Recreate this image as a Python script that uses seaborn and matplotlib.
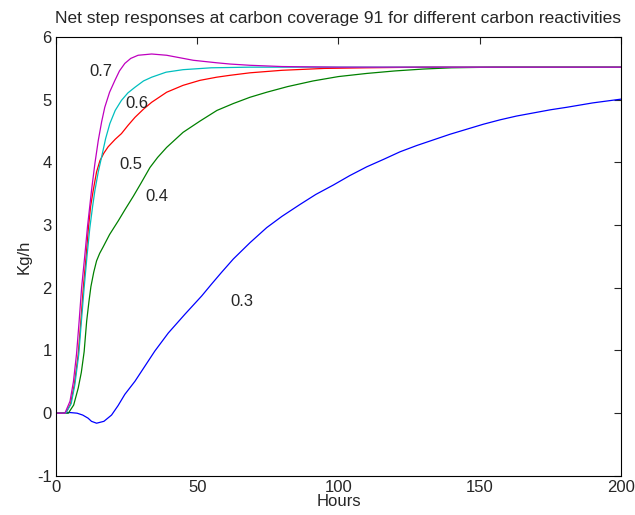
import pandas as pd
import matplotlib
matplotlib.use("Agg")
import matplotlib.pyplot as plt
import seaborn as sns

# step responses, one pair of lists per reactivity
hours_03 = [0, 5, 7.5, 9.5, 11.4, 12.6, 14.4, 17, 19.7, 22, 24.4, 28, 31.5, 35, 39.8, 45.7,
            51.6, 55.1, 58.5, 62.8, 68.7, 74.6, 80, 86.4, 92, 98.2, 104, 110, 116, 121.8,
            127.7, 133.6, 139.5, 145.4, 151.3, 157.2, 163, 169, 175, 180.8, 190, 200]
resp_03 = [0, 0.01, 0.0, -0.03, -0.08, -0.13, -0.16, -0.13, -0.03, 0.12, 0.30, 0.51, 0.75,
           0.99, 1.28, 1.58, 1.87, 2.06, 2.24, 2.46, 2.72, 2.96, 3.14, 3.33, 3.49, 3.64, 3.79,
           3.93, 4.05, 4.17, 4.27, 4.36, 4.45, 4.53, 4.61, 4.68, 4.74, 4.79, 4.84, 4.88, 4.95,
           5.01]

hours_04 = [0, 4.4, 6.3, 7.9, 9.0, 10.0, 10.9, 11.7, 12.4, 13.4, 14.4, 15.5, 16.7, 19, 22.1,
            24.5, 27.4, 30, 33.3, 36, 39.2, 45, 51, 57, 62.8, 68.7, 74.6, 82, 91, 100, 110,
            120, 130, 140, 155, 170, 200]
resp_04 = [0, 0, 0.13, 0.4, 0.65, 0.98, 1.47, 1.78, 2.02, 2.25, 2.43, 2.55, 2.65, 2.85, 3.07,
           3.25, 3.46, 3.66, 3.92, 4.08, 4.24, 4.48, 4.66, 4.83, 4.94, 5.04, 5.12, 5.21, 5.30,
           5.37, 5.42, 5.46, 5.49, 5.51, 5.52, 5.52, 5.52]

hours_05 = [0, 3.5, 5.2, 6.5, 7.9, 8.8, 9.7, 10.7, 11.5, 12.3, 13.2, 14.4, 15.6, 17, 18.5,
            21, 23.2, 25.5, 28, 31, 33.9, 39.2, 45, 51, 56.9, 61.6, 68.7, 80, 95, 110, 130,
            160, 200]
resp_05 = [0, 0, 0.15, 0.45, 0.94, 1.45, 2.0, 2.5, 2.95, 3.3, 3.55, 3.85, 4.03, 4.15, 4.25,
           4.37, 4.46, 4.59, 4.72, 4.85, 4.96, 5.12, 5.23, 5.31, 5.36, 5.39, 5.43, 5.47, 5.50,
           5.51, 5.52, 5.52, 5.52]

hours_06 = [0, 3.5, 5.4, 6.7, 8.1, 9.0, 10.0, 11.0, 12.0, 13.0, 13.8, 15.0, 16.2, 17.6, 19.1,
            21, 23.2, 25.5, 28, 31, 33.9, 39, 45, 55, 68.7, 100, 200]
resp_06 = [0, 0, 0.15, 0.45, 0.94, 1.45, 2.0, 2.5, 2.95, 3.3, 3.55, 3.85, 4.09, 4.38, 4.62,
           4.83, 4.99, 5.11, 5.2, 5.3, 5.36, 5.44, 5.48, 5.51, 5.52, 5.52, 5.52]

hours_07 = [0, 3.2, 5, 6.2, 7.3, 8.2, 9.1, 10.2, 11.2, 12.6, 13.8, 15.0, 16.2, 17.3, 19, 20.9,
            22.5, 24.4, 26.5, 29.1, 33.9, 39.2, 48.6, 56.9, 61.6, 68.7, 80, 100, 200]
resp_07 = [0, 0, 0.19, 0.5, 0.94, 1.45, 2.0, 2.5, 2.98, 3.55, 3.98, 4.35, 4.65, 4.88, 5.12,
           5.31, 5.46, 5.58, 5.66, 5.71, 5.73, 5.71, 5.63, 5.59, 5.57, 5.55, 5.53, 5.52, 5.52]

reactivities = ["0.3", "0.4", "0.5", "0.6", "0.7"]
line_colors = ["#0000ff", "#008000", "#ff0000", "#00bfbf", "#bf00bf"]
# where the curve labels sit (hours, kg/h)
label_x = [65.8, 35.8, 26.5, 28.6, 16.0]
label_y = [1.78, 3.46, 3.97, 4.94, 5.45]

frames = []
for r, h, v in zip(reactivities,
                   [hours_03, hours_04, hours_05, hours_06, hours_07],
                   [resp_03, resp_04, resp_05, resp_06, resp_07]):
    frames.append(pd.DataFrame({"Hours": h, "Kg/h": v, "reactivity": r}))
df = pd.concat(frames, ignore_index=True)

sns.set_style("white")
plt.rcParams["font.family"] = ["Liberation Sans", "DejaVu Sans"]
plt.rcParams["axes.unicode_minus"] = False

fig = plt.figure(figsize=(6.35, 5.15), dpi=100)
ax = fig.add_axes([0.088, 0.076, 0.890, 0.852])

sns.lineplot(data=df, x="Hours", y="Kg/h", hue="reactivity", hue_order=reactivities,
             palette=line_colors, linewidth=0.9, legend=False, sort=False, ax=ax)

for r, lx, ly in zip(reactivities, label_x, label_y):
    ax.text(lx, ly, r, fontsize=12, ha="center", va="center")

ax.set_xlim(0, 200)
ax.set_ylim(-1, 6)
ax.set_xticks([0, 50, 100, 150, 200])
ax.set_yticks([-1, 0, 1, 2, 3, 4, 5, 6])
ax.tick_params(direction="in", top=True, right=True, labelsize=12, length=5, width=0.8, pad=3)
for s in ax.spines.values():
    s.set_visible(True)
    s.set_color("black")
    s.set_linewidth(0.8)
ax.set_xlabel("Hours", fontsize=12, labelpad=-1)
ax.set_ylabel("Kg/h", fontsize=12, labelpad=4)
ax.set_title("Net step responses at carbon coverage 91 for different carbon reactivities",
             fontsize=12.5, pad=10)

plt.savefig("out.png", dpi=100)
